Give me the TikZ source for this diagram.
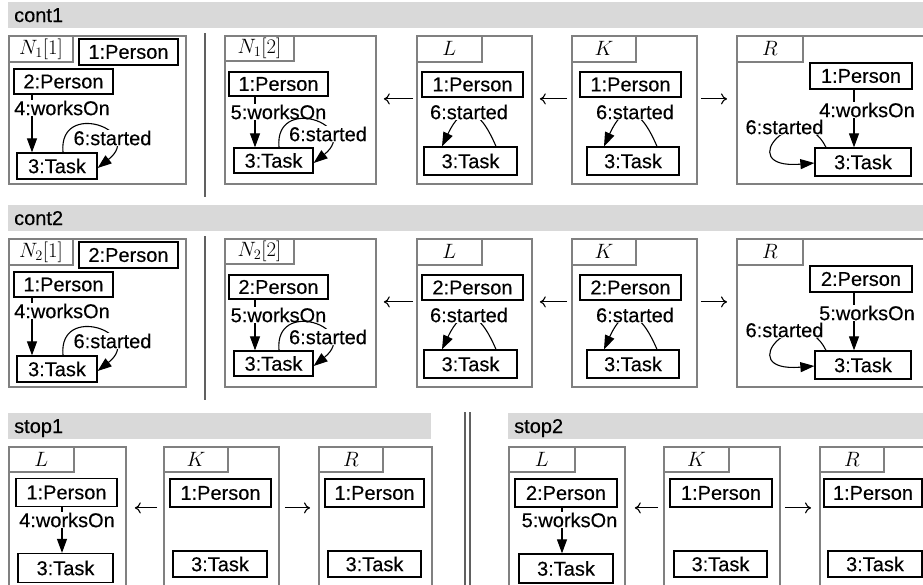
\documentclass[tikz,border=0pt]{standalone}
\usepackage{fontspec}
\setmainfont{Liberation Sans}[FakeBold=0.3]
\usetikzlibrary{calc,arrows.meta}
\definecolor{fgray}{HTML}{808080}
\definecolor{sgray}{HTML}{606060}
\definecolor{bandgray}{HTML}{D9D9D9}
\tikzset{
  gframe/.style={draw=fgray, line width=1.8pt, fill=white, inner sep=0pt, anchor=north west},
  gtab/.style={draw=fgray, line width=1.8pt, inner sep=0pt, anchor=north west, font=\fontsize{20}{24}\selectfont},
  obox/.style={draw=black, line width=1.3pt, inner sep=0pt, fill=white, font=\fontsize{20}{24}\selectfont},
  olbl/.style={fill=white, inner sep=1pt, font=\fontsize{20}{24}\selectfont},
  oedge/.style={line width=1.1pt, -{Triangle[length=14pt,width=10pt]}},
  marrow/.style={line width=1.1pt, -{Computer Modern Rightarrow[length=6pt,width=11pt]}},
  gband/.style={fill=bandgray, draw=none, inner sep=0pt, anchor=north west},
  gbandlbl/.style={anchor=base west, inner sep=0pt, font=\fontsize{20}{24}\selectfont},
  gsep/.style={draw=sgray, line width=2pt},
  gdbl/.style={draw=sgray, line width=1.5pt},
}
% #1 prefix, #2 y offset, #3 band text, #4 N index, #5 top-right person,
% #6 inner person of N[1], #7 person of N[2]/L/K/R, #8 worksOn of N[2], #9 worksOn of R
\newcommand{\gtoprow}[9]{%
\begin{scope}[shift={(0,#2)}]
  \node[gband, minimum width=930, minimum height=26] (#1band) at (8,2) {};
  \node[gbandlbl] (#1bandlbl) at (14,22) {#3};
  \draw[gsep] (205,33) -- (205,197);
  % N[1]
  \node[gframe, minimum width=177, minimum height=148] (#1fA) at (8,35) {};
  \node[gtab, minimum width=64, minimum height=26] (#1tA) at (#1fA.north west) {$N_{#4}[1]$};
  \node[obox, minimum width=99, minimum height=26] (#1pA) at (128.5,52) {#5};
  \node[obox, minimum width=99, minimum height=25] (#1qA) at (63.5,81.5) {#6};
  \node[obox, minimum width=80, minimum height=26] (#1kA) at (57,166) {3:Task};
  \draw[oedge] ($(#1qA.south)+(-31.5,0)$) -- ($(#1kA.north)+(-25,0)$);
  \node[olbl] (#1wA) at (62,108) {4:worksOn};
  \draw[oedge] ($(#1kA.north)+(6,0)$) .. controls ($(#1kA.north)+(1,-53)$) and ($(#1kA.east)+(48,-36)$) .. ($(#1kA.east)+(0,2)$);
  \node[olbl] (#1sA) at (112.5,138) {6:started};
  % N[2]
  \node[gframe, minimum width=151, minimum height=148] (#1fB) at (224,35) {};
  \node[gtab, minimum width=69, minimum height=25] (#1tB) at (#1fB.north west) {$N_{#4}[2]$};
  \node[obox, minimum width=99, minimum height=24] (#1pB) at (278.5,84) {#7};
  \node[obox, minimum width=79, minimum height=25] (#1kB) at (273.5,160.5) {3:Task};
  \draw[oedge] ($(#1pB.south)+(-23.5,0)$) -- ($(#1kB.north)+(-18.5,0)$);
  \node[olbl] (#1wB) at (278.5,112) {#8};
  \draw[oedge] ($(#1kB.north)+(5.5,0)$) .. controls ($(#1kB.north)+(0.5,-53)$) and ($(#1kB.east)+(48,-36)$) .. ($(#1kB.east)+(0,2.5)$);
  \node[olbl] (#1sB) at (328,134) {6:started};
  % L
  \node[gframe, minimum width=115, minimum height=148] (#1fL) at (416,35) {};
  \node[gtab, minimum width=65, minimum height=26] (#1tL) at (#1fL.north west) {$L$};
  \node[obox, minimum width=101, minimum height=25] (#1pL) at (472.5,84.5) {#7};
  \node[obox, minimum width=93, minimum height=28] (#1kL) at (470.5,161) {3:Task};
  \draw[oedge] ($(#1kL.north)+(25.5,0)$) .. controls ($(#1kL.north)+(7.5,-42)$) and ($(#1kL.north)+(-8.5,-42)$) .. ($(#1kL.north)+(-28.5,0)$);
  \node[olbl] (#1sL) at (469,112) {6:started};
  % K
  \node[gframe, minimum width=125, minimum height=148] (#1fK) at (571,35) {};
  \node[gtab, minimum width=64, minimum height=26] (#1tK) at (#1fK.north west) {$K$};
  \node[obox, minimum width=101, minimum height=25] (#1pK) at (630.5,84.5) {#7};
  \node[obox, minimum width=92, minimum height=28] (#1kK) at (633,161) {3:Task};
  \draw[oedge] ($(#1kK.north)+(24,0)$) .. controls ($(#1kK.north)+(6,-42)$) and ($(#1kK.north)+(-10,-42)$) .. ($(#1kK.north)+(-29,0)$);
  \node[olbl] (#1sK) at (635,112) {6:started};
  % R
  \node[gframe, minimum width=220, minimum height=148] (#1fR) at (736,35) {};
  \node[gtab, minimum width=66, minimum height=26] (#1tR) at (#1fR.north west) {$R$};
  \node[obox, minimum width=102, minimum height=26] (#1pR) at (861,76) {#7};
  \node[obox, minimum width=96, minimum height=28] (#1kR) at (863,162) {3:Task};
  \draw[oedge] ($(#1pR.south)+(-7,0)$) -- ($(#1kR.north)+(-9,0)$);
  \node[olbl] (#1wR) at (867,110) {#9};
  \draw[oedge] ($(#1kR.north)+(-37,0)$) .. controls ($(#1kR.north)+(-63,-53)$) and ($(#1kR.west)+(-85,8)$) .. ($(#1kR.west)+(0,1)$);
  \node[olbl] (#1sR) at (784.5,127) {6:started};
  % morphisms
  \draw[marrow] ($(#1fL.west)+(-3,-11)$) -- ($(#1fB.east)+(7,-11)$);
  \draw[marrow] ($(#1fK.west)+(-4,-11)$) -- ($(#1fL.east)+(7,-11)$);
  \draw[marrow] ($(#1fK.east)+(3,-11)$) -- ($(#1fR.west)+(-9,-11)$);
\end{scope}}
\begin{document}
\begin{tikzpicture}[x=1pt,y=-1pt]
  \useasboundingbox (0,0) rectangle (923,584);
  \clip (0,0) rectangle (923,584);
  \fill[white] (0,0) rectangle (923,584);
  \gtoprow{a}{0}{cont1}{1}{1:Person}{2:Person}{1:Person}{5:worksOn}{4:worksOn}
  \gtoprow{b}{203}{cont2}{2}{2:Person}{1:Person}{2:Person}{5:worksOn}{5:worksOn}
  % bottom row
  \node[gband, minimum width=423, minimum height=26] (cband) at (8,413) {};
  \node[gbandlbl] (cbandlbl) at (14,433) {stop1};
  \node[gband, minimum width=430, minimum height=26] (dband) at (508,413) {};
  \node[gbandlbl] (dbandlbl) at (514,433) {stop2};
  \draw[gdbl] (465,412) -- (465,590);
  \draw[gdbl] (470,412) -- (470,590);
  % stop1
  \node[gframe, minimum width=117, minimum height=160] (cfL) at (8,446) {};
  \node[gtab, minimum width=65, minimum height=25] (ctL) at (cfL.north west) {$L$};
  \node[obox, minimum width=101, minimum height=28] (cpL) at (66.5,492.5) {1:Person};
  \node[obox, minimum width=95, minimum height=29] (ckL) at (65.5,568) {3:Task};
  \draw[oedge] ($(cpL.south)+(-4.5,0)$) -- ($(ckL.north)+(-3.5,0)$);
  \node[olbl] (cwL) at (67,520) {4:worksOn};
  \node[gframe, minimum width=115, minimum height=160] (cfK) at (163,446) {};
  \node[gtab, minimum width=64, minimum height=25] (ctK) at (cfK.north west) {$K$};
  \node[obox, minimum width=101, minimum height=28] (cpK) at (220.5,493) {1:Person};
  \node[obox, minimum width=94, minimum height=26] (ckK) at (220,564) {3:Task};
  \node[gframe, minimum width=113, minimum height=160] (cfR) at (318,446) {};
  \node[gtab, minimum width=64, minimum height=25] (ctR) at (cfR.north west) {$R$};
  \node[obox, minimum width=99, minimum height=28] (cpR) at (374.5,493) {1:Person};
  \node[obox, minimum width=93, minimum height=26] (ckR) at (374.5,564) {3:Task};
  \draw[marrow] ($(cfK.west)+(-6,-19)$) -- ($(cfL.east)+(8,-19)$);
  \draw[marrow] ($(cfK.east)+(5,-19)$) -- ($(cfR.west)+(-8,-19)$);
  % stop2
  \node[gframe, minimum width=116, minimum height=160] (dfL) at (508,446) {};
  \node[gtab, minimum width=66, minimum height=25] (dtL) at (dfL.north west) {$L$};
  \node[obox, minimum width=102, minimum height=28] (dpL) at (566,493) {2:Person};
  \node[obox, minimum width=94, minimum height=29] (dkL) at (566,568.5) {3:Task};
  \draw[oedge] ($(dpL.south)+(-4,0)$) -- ($(dkL.north)+(-4,0)$);
  \node[olbl] (dwL) at (569.5,520) {5:worksOn};
  \node[gframe, minimum width=116, minimum height=160] (dfK) at (663,446) {};
  \node[gtab, minimum width=65, minimum height=25] (dtK) at (dfK.north west) {$K$};
  \node[obox, minimum width=102, minimum height=28] (dpK) at (721,493) {1:Person};
  \node[obox, minimum width=93, minimum height=26] (dkK) at (720.5,564) {3:Task};
  \node[gframe, minimum width=140, minimum height=160] (dfR) at (819,446) {};
  \node[gtab, minimum width=64, minimum height=25] (dtR) at (dfR.north west) {$R$};
  \node[obox, minimum width=98, minimum height=28] (dpR) at (873,493) {1:Person};
  \node[obox, minimum width=94, minimum height=26] (dkR) at (875,564) {3:Task};
  \draw[marrow] ($(dfK.west)+(-5,-19)$) -- ($(dfL.east)+(9,-19)$);
  \draw[marrow] ($(dfK.east)+(4,-19)$) -- ($(dfR.west)+(-8,-19)$);
\end{tikzpicture}
\end{document}
